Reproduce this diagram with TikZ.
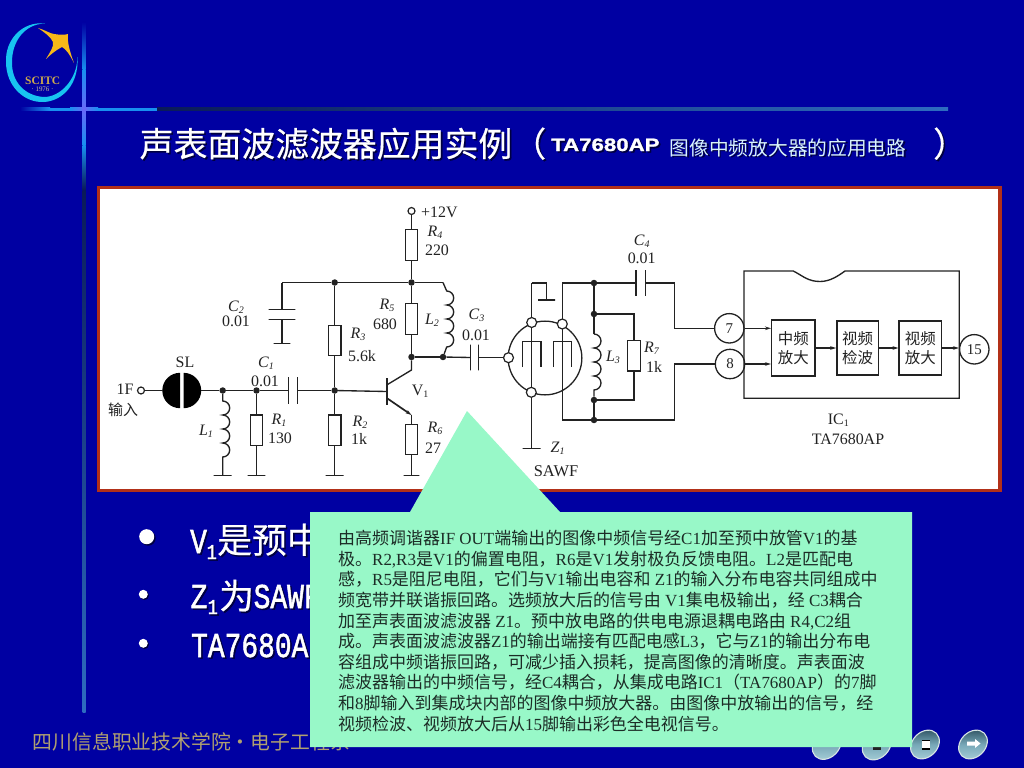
\documentclass[tikz,border=0pt]{standalone}
\usepackage{fontspec}
\usepackage{graphicx}
\usetikzlibrary{arrows.meta}
\setmainfont{Liberation Serif}
\newfontfamily\cjk{Noto Sans CJK SC}
\newfontfamily\cjkh{Noto Sans CJK SC}[FakeBold=0.5]
\newfontfamily\monob{Liberation Mono}[FakeBold=1.7]
\newfontfamily\sansb{Liberation Sans}
\newfontfamily\sansh{Liberation Sans Bold}[FakeBold=1.2]
\definecolor{bgblue}{HTML}{0000A2}
\definecolor{shcol}{HTML}{000040}
\definecolor{wirec}{HTML}{222222}
\definecolor{mint}{HTML}{98F8C8}
\definecolor{panelred}{HTML}{B23018}
\definecolor{logocyan}{HTML}{18C4F0}
\definecolor{logogold}{HTML}{F8B818}
\definecolor{footgold}{HTML}{B0A070}
\definecolor{linedark}{HTML}{0A1A58}
\definecolor{linemid}{HTML}{2E6CC0}
\definecolor{linebright}{HTML}{1890F0}
\definecolor{linecross}{HTML}{6868F8}
\definecolor{bodytext}{HTML}{1C2C26}
\definecolor{btntop}{HTML}{2C5060}
\definecolor{btnmid}{HTML}{78A8B8}
\definecolor{btnlow}{HTML}{A8D0D8}
\definecolor{btnrim}{HTML}{D8E4E4}
\newcommand\Zh[1]{{\cjk #1}}
\newcommand\csub[2]{\textit{#1}\raisebox{-2pt}{\fontsize{10}{10}\selectfont\textit{#2}}}
\newcommand\nsub[2]{#1\raisebox{-2pt}{\fontsize{10}{10}\selectfont #2}}
\newcommand\shnode[5]{\node[#4,text=shcol] at (#2+1.6,#3+1.6) {#5};\node[#4] (#1) at (#2,#3) {#5};}
\tikzset{
  wire/.style={draw=wirec,line width=1.35pt},
  res/.style={draw=wirec,line width=1.35pt,fill=white,shape=rectangle,minimum width=12.5pt,minimum height=30.5pt,inner sep=0pt},
  jdot/.style={fill=wirec,shape=circle,minimum size=6.5pt,inner sep=0pt},
  termc/.style={draw=wirec,line width=1.2pt,fill=white,shape=circle,minimum size=7pt,inner sep=0pt},
  bigterm/.style={draw=wirec,line width=1.2pt,fill=white,shape=circle,minimum size=10pt,inner sep=0pt},
  pinc/.style={draw=wirec,line width=1.3pt,fill=white,shape=circle,minimum size=29.5pt,inner sep=0pt,font=\fontsize{15}{15}\selectfont,text=wirec},
  gndbar/.style={draw=wirec,line width=1.4pt,shape=rectangle,minimum width=#1,minimum height=0pt,inner sep=0pt},
  vplate/.style={draw=wirec,line width=1.4pt,shape=rectangle,minimum height=#1,minimum width=0pt,inner sep=0pt},
  lab/.style={font=\fontsize{16}{16}\selectfont,text=wirec,inner sep=0pt},
  block/.style={draw=wirec,line width=1.35pt,fill=white,shape=rectangle,inner sep=0pt,align=center,font=\cjk\fontsize{15.5}{18.5}\selectfont,text=wirec},
  tip/.style={-{Stealth[length=6pt,width=3.6pt]}},
  ttl/.style={anchor=base west,inner sep=0pt,text=white},
  butn/.style={draw=btnrim,line width=1.1pt,top color=btntop,bottom color=btnlow,middle color=btnmid}
}
\begin{document}
\begin{tikzpicture}[x=1bp,y=-1bp]
\useasboundingbox (0,0) rectangle (1024,768);
\fill[bgblue] (0,0) rectangle (1024,768);
% frame lines
\shade[left color=bgblue,right color=linebright] (20,107.6) rectangle (50,110.6);
\fill[linebright] (50,107.6) rectangle (157,110.6);
\shade[left color=linedark,right color=linemid] (157,107.6) rectangle (948,110.6);
\shade[left color=linebright,right color=linecross] (70,107.6) rectangle (84,110.6);
\shade[left color=linecross,right color=linebright] (84,107.6) rectangle (98,110.6);
\shade[top color=bgblue,bottom color=linebright] (82.5,22) rectangle (85.5,70);
\shade[top color=linebright,bottom color=linecross] (82.5,70) rectangle (85.5,109);
\shade[top color=linecross,bottom color=linebright] (82.5,109) rectangle (85.5,145);
\shade[top color=linebright,bottom color=linedark] (82.5,145) rectangle (85.5,190);
\shade[top color=linedark,bottom color=linemid] (82.5,190) rectangle (85.5,712);
% logo
\fill[logocyan] (45,23.5) .. controls (22,21) and (5,40) .. (6,62) .. controls (6,86) and (24,103) .. (44,102) .. controls (62,101) and (79,85) .. (77.5,57) .. controls (77,80) and (60,97) .. (44,97) .. controls (25,96) and (11.5,82) .. (12,62) .. controls (12,42) and (24,24) .. (45,23.5) -- cycle;
\fill[logogold] (38,28) .. controls (45,30) and (50,33.5) .. (54,34) .. controls (60,35) and (65,35) .. (68,34) .. controls (67,42) and (70,52) .. (74,63) .. controls (70,55) and (66,49) .. (62,47) .. controls (56,50) and (50,55) .. (46,59) .. controls (50,52) and (54,47) .. (53,42) .. controls (51,37) and (44,32) .. (38,28) -- cycle;
\node[inner sep=0pt,text=footgold!60!logogold,font=\bfseries\fontsize{11.5}{11.5}\selectfont] (logoname) at (42.7,80.7) {SCITC};
\node[inner sep=0pt,text=footgold!70!white,font=\fontsize{7}{7}\selectfont] (logoyear) at (42.5,89.5) {· 1976 ·};
% title
\shnode{title1}{139.5}{156.5}{ttl,font=\cjkh\fontsize{34}{34}\selectfont}{声表面波滤波器应用实例（}
\shnode{title2}{551}{151}{ttl,text=white,font=\sansh\fontsize{18}{18}\selectfont}{\scalebox{1.24}[1]{TA7680AP}}
\shnode{title3}{669.5}{155}{ttl,text=white!85!cyan,font=\cjk\fontsize{19.8}{20}\selectfont}{图像中频放大器的应用电路}
\shnode{title4}{933}{156.5}{ttl,font=\cjkh\fontsize{34}{34}\selectfont}{）}
% panel
\draw[panelred,line width=4pt,fill=white] (98.5,187.5) rectangle (999.5,490.5);
% ---------- left part of the circuit
\node[termc] (Tv) at (411.5,211) {};
\node[lab,anchor=west] (Lv) at (421,212) {+12V};
\node[res] (R4) at (411.5,245) {};
\node[jdot] (J2) at (411.5,282.5) {};
\node[jdot] (J1) at (334.7,282.5) {};
\coordinate (C2t) at (282,282.5);
\coordinate (L2t) at (443,282.5);
\node[res] (R3) at (334.7,340.5) {};
\node[res] (R5) at (411.5,319) {};
\node[jdot] (J3) at (411.5,357) {};
\node[jdot] (J4) at (443,357) {};
\node[gndbar=27pt] (C2a) at (282,309.3) {};
\node[gndbar=27pt] (C2b) at (282,319.5) {};
\node[gndbar=17pt] (G2) at (282,343.5) {};
\node[vplate=26pt] (C3a) at (470.5,357.5) {};
\node[vplate=26pt] (C3b) at (478.5,357.5) {};
\node[vplate=27pt] (C1a) at (288.5,390.5) {};
\node[vplate=27pt] (C1b) at (297.5,390.5) {};
\node[jdot] (J5) at (222.7,390.5) {};
\node[jdot] (J6) at (256.5,390.5) {};
\node[jdot] (J7) at (334.7,390.5) {};
\node[termc] (Tin) at (141,390.5) {};
\fill[black] (180,372.8) arc[start angle=-90,end angle=-270,radius=17.7] -- cycle;
\fill[black] (183.5,372.8) arc[start angle=-90,end angle=90,radius=17.7] -- cycle;
\coordinate (SLl) at (163,390.5);
\coordinate (SLr) at (201,390.5);
\node[res] (R1) at (256.5,430.3) {};
\node[res] (R2) at (334.7,430.3) {};
\node[res] (R6) at (411.5,439.5) {};
\node[gndbar=18pt] (G1) at (222.7,475.5) {};
\node[gndbar=18pt] (G3) at (256.5,475.5) {};
\node[gndbar=18pt] (G4) at (334.7,475.5) {};
\node[gndbar=16pt] (G5) at (411.5,475.5) {};
\node[vplate=27pt,line width=1.9pt] (Vb) at (386.7,391.5) {};
\coordinate (Vcb) at (386.7,385);
\coordinate (Veb) at (386.7,398);
\coordinate (Vc) at (411.5,370);
\coordinate (Ve) at (411.5,415);
\draw[wire] (Tv) -- (R4);
\draw[wire] (R4) -- (J2);
\draw[wire] (C2t) -- (J1) -- (J2) -- (L2t);
\draw[wire] (C2t) -- (C2a);
\draw[wire] (C2b) -- (G2);
\draw[wire] (J1) -- (R3);
\draw[wire] (R3) -- (J7);
\draw[wire] (J2) -- (R5);
\draw[wire] (R5) -- (J3);
\draw[wire] (J3) -- (J4);
\draw[wire] (J4) -- (C3a);
\draw[wire] (J3) -- (Vc) -- (Vcb);
\draw[wire,line width=1.7pt,tip] (Veb) -- (Ve);
\draw[wire] (Ve) -- (R6);
\draw[wire] (R6) -- (G5);
\draw[wire] (Tin) -- (SLl);
\draw[wire] (SLr) -- (J5);
\draw[wire] (J5) -- (J6);
\draw[wire] (J6) -- (C1a);
\draw[wire] (C1b) -- (J7);
\draw[wire] (J7) -- (Vb);
\draw[wire] (J6) -- (R1);
\draw[wire] (R1) -- (G3);
\draw[wire] (J7) -- (R2);
\draw[wire] (R2) -- (G4);
% coils
\draw[wire] (J5) -- (222.7,401) arc[start angle=-90,end angle=90,radius=7] arc[start angle=-90,end angle=90,radius=7] arc[start angle=-90,end angle=90,radius=7] arc[start angle=-90,end angle=90,radius=7] -- (G1);
\draw[wire] (L2t) -- (446.7,291) arc[start angle=-90,end angle=90,radius=7] arc[start angle=-90,end angle=90,radius=7] arc[start angle=-90,end angle=90,radius=7] arc[start angle=-90,end angle=90,radius=7] -- (J4);
% circuit labels, left
\node[lab] (Lif) at (125,389) {1F};
\node[lab,font=\cjk\fontsize{15}{15}\selectfont] (Lin) at (123,410) {输入};
\node[lab] (Lsl) at (185,362) {SL};
\node[lab] (Lc1) at (266,363) {\csub{C}{1}};
\node[lab] (Lc1v) at (265,381) {0.01};
\node[lab] (Lc2) at (236,307) {\csub{C}{2}};
\node[lab] (Lc2v) at (236,321) {0.01};
\node[lab] (Lc3) at (476.5,315) {\csub{C}{3}};
\node[lab] (Lc3v) at (476,335) {0.01};
\node[lab] (Lr1) at (279,420) {\csub{R}{1}};
\node[lab] (Lr1v) at (280,438) {130};
\node[lab] (Lr2) at (360,422) {\csub{R}{2}};
\node[lab] (Lr2v) at (359,439) {1k};
\node[lab] (Lr3) at (358,334) {\csub{R}{3}};
\node[lab] (Lr3v) at (362,356) {5.6k};
\node[lab] (Lr4) at (435,232) {\csub{R}{4}};
\node[lab] (Lr4v) at (437,250) {220};
\node[lab] (Lr5) at (387,305) {\csub{R}{5}};
\node[lab] (Lr5v) at (385,324) {680};
\node[lab] (Lr6) at (435,428) {\csub{R}{6}};
\node[lab] (Lr6v) at (433,448) {27};
\node[lab] (Ll1) at (206,431) {\csub{L}{1}};
\node[lab] (Ll2) at (432,320) {\csub{L}{2}};
\node[lab] (Lv1) at (420,391) {\nsub{V}{1}};
% ---------- right part
\node[draw=wirec,line width=1.3pt,shape=circle,minimum size=74pt,inner sep=0pt] (Zc) at (545,358) {};
\coordinate (Zt1) at (531.7,283);
\coordinate (Zt2) at (546.7,283);
\node[gndbar=17pt] (Gz1) at (546.7,300) {};
\node[gndbar=18pt] (Gz2) at (531.7,448.3) {};
\node[jdot] (J8) at (594,283) {};
\node[jdot] (J9) at (594,314) {};
\node[jdot] (J10) at (594,400) {};
\node[jdot] (J11) at (594,420) {};
\coordinate (Zr) at (562.3,283);
\coordinate (Zrb) at (562.3,420);
\node[vplate=26pt] (C4a) at (636,283) {};
\node[vplate=26pt] (C4b) at (645.7,283) {};
\coordinate (C4r) at (674.3,283);
\coordinate (C4d) at (674.3,328.3);
\coordinate (Brb) at (674.3,420);
\coordinate (Brt) at (674.3,364);
\node[res] (R7) at (634,355.7) {};
\coordinate (R7t) at (634,314);
\coordinate (R7b) at (634,400);
\node[pinc] (P7) at (729.3,328.3) {7};
\node[pinc] (P8) at (730,364) {8};
\node[pinc] (P15) at (974.3,349.3) {15};
\node[block,minimum width=43.5pt,minimum height=56pt] (B1) at (793.3,348) {中频\\放大};
\node[block,minimum width=41.5pt,minimum height=54.5pt] (B2) at (857.5,348) {视频\\检波};
\node[block,minimum width=42.5pt,minimum height=54.5pt] (B3) at (920.3,348) {视频\\放大};
\draw[wire] (744,271) -- (793.3,271) .. controls (803,276) and (808,281.5) .. (820,281.5) .. controls (830,281.5) and (838,276) .. (845,271) -- (959.3,271) -- (959.3,398.3) -- (744,398.3) -- cycle;
% comb fingers
\draw[wire] (522.7,367) -- (522.7,341.7) -- (541,341.7) -- (541,367);
\draw[wire] (553.3,367) -- (553.3,341.7) -- (571.7,341.7) -- (571.7,367);
\draw[wire] (Zt1) -- (Zt2) -- (Gz1);
\draw[wire] (Zr) -- (J8) -- (C4a);
\draw[wire] (C4b) -- (C4r) -- (C4d) -- (P7);
\draw[wire] (Zrb) -- (J11) -- (Brb) -- (Brt) -- (P8);
\draw[wire] (Zr) -- (Zrb);
\draw[wire] (Zt1) -- (531.7,392) -- (Gz2);
\draw[wire] (J8) -- (J9) -- (594,334);
\draw[wire] (594,334) arc[start angle=-90,end angle=90,radius=7] arc[start angle=-90,end angle=90,radius=7] arc[start angle=-90,end angle=90,radius=7] arc[start angle=-90,end angle=90,radius=7] -- (J10);
\draw[wire] (J10) -- (J11);
\draw[wire] (J9) -- (R7t) -- (R7);
\draw[wire] (R7) -- (R7b) -- (J10);
\draw[wire] (C3b) -- (508.5,357.5);
\node[bigterm] (Ztl) at (531.7,322.5) {};
\node[bigterm] (Ztr) at (562.3,324) {};
\node[bigterm] (Zl) at (508.5,357.7) {};
\node[bigterm] (Zb) at (531.3,392.3) {};
\draw[wire,tip] (P7) -- (B1.west |- P7);
\draw[wire,tip] (P8) -- (B1.west |- P8);
\draw[wire,tip] (B1) -- (B2);
\draw[wire,tip] (B2) -- (B3);
\draw[wire,tip] (B3) -- (P15.west |- B3);
\node[lab] (Lc4) at (641.7,241.7) {\csub{C}{4}};
\node[lab] (Lc4v) at (641.7,258) {0.01};
\node[lab] (Ll3) at (613,357) {\csub{L}{3}};
\node[lab] (Lr7) at (651.7,348) {\csub{R}{7}};
\node[lab] (Lr7v) at (654,367) {1k};
\node[lab] (Lz1) at (557.7,448.3) {\csub{Z}{1}};
\node[lab,font=\fontsize{16.5}{16.5}\selectfont] (Lsaw) at (556,470.7) {SAWF};
\node[lab] (Lic) at (838.3,420) {\nsub{IC}{1}};
\node[lab] (Lta) at (848,439.3) {TA7680AP};
% bullets
\fill[shcol] (148.2,538.2) circle (7.5);
\fill[white] (146.7,536.7) circle (7.5);
\fill[shcol] (144.5,595.5) circle (4.5);
\fill[white] (143.3,594.3) circle (4.5);
\fill[shcol] (144.5,644.5) circle (4.5);
\fill[white] (143.3,643.3) circle (4.5);
\shnode{b1a}{190}{553}{ttl,font=\monob\fontsize{28}{28}\selectfont}{\scalebox{1}[1.25]{V}}
\shnode{b1s}{206.5}{559}{ttl,font=\monob\fontsize{17}{17}\selectfont}{\scalebox{1}[1.25]{1}}
\shnode{b1b}{217}{553}{ttl,font=\cjkh\fontsize{35}{35}\selectfont}{是预中}
\shnode{b2a}{190.5}{608}{ttl,font=\monob\fontsize{28}{28}\selectfont}{\scalebox{1}[1.25]{Z}}
\shnode{b2s}{207.5}{614}{ttl,font=\monob\fontsize{17}{17}\selectfont}{\scalebox{1}[1.25]{1}}
\shnode{b2b}{219}{609}{ttl,font=\cjkh\fontsize{35}{35}\selectfont}{为}
\shnode{b2c}{253.5}{608}{ttl,font=\monob\fontsize{28}{28}\selectfont}{\scalebox{1}[1.25]{SAWF}}
\shnode{b3a}{191}{657}{ttl,font=\monob\fontsize{28}{28}\selectfont}{\scalebox{1}[1.25]{TA7680A}}
% footer
\node[anchor=base west,inner sep=0pt,text=footgold,font=\cjk\fontsize{19.9}{20}\selectfont] (foot) at (32.5,749) {四川信息职业技术学院・电子工程系};
% navigation buttons
\path[butn] (826.7,745) ellipse[x radius=16,y radius=12.5,rotate=45];
\path[butn] (876.7,745.5) ellipse[x radius=16,y radius=12.5,rotate=45];
\path[butn] (925,744.5) ellipse[x radius=16,y radius=12.5,rotate=45];
\path[butn] (973,744.5) ellipse[x radius=16,y radius=12.5,rotate=45];
\fill[wirec] (873,747) rectangle (881,749.5);
\fill[black] (921.8,739.5) rectangle (930,749.5);
\fill[white] (921.8,741) rectangle (930,747.5);
\fill[white] (967,741.5) -- (975,741.5) -- (975,739) -- (980.5,743.5) -- (975,748) -- (975,745.5) -- (967,745.5) -- cycle;
% callout
\fill[mint] (310,512) -- (410,512) -- (467,411) -- (560,512) -- (912,512) -- (912,747) -- (310,747) -- cycle;
\node[anchor=north west,inner sep=0pt,align=left,text=bodytext,font=\fontsize{17.05}{20.65}\selectfont] (calltext) at (338,530.3) {%
\Zh{由高频调谐器}IF OUT\Zh{端输出的图像中频信号经}C1\Zh{加至预中放管}V1\Zh{的基}\\
\Zh{极。}R2,R3\Zh{是}V1\Zh{的偏置电阻，}R6\Zh{是}V1\Zh{发射极负反馈电阻。}L2\Zh{是匹配电}\\
\Zh{感，}R5\Zh{是阻尼电阻，它们与}V1\Zh{输出电容和} Z1\Zh{的输入分布电容共同组成中}\\
\Zh{频宽带并联谐振回路。选频放大后的信号由} V1\Zh{集电极输出，经} C3\Zh{耦合}\\
\Zh{加至声表面波滤波器} Z1\Zh{。预中放电路的供电电源退耦电路由} R4,C2\Zh{组}\\
\Zh{成。声表面波滤波器}Z1\Zh{的输出端接有匹配电感}L3\Zh{，它与}Z1\Zh{的输出分布电}\\
\Zh{容组成中频谐振回路，可减少插入损耗，提高图像的清晰度。声表面波}\\
\Zh{滤波器输出的中频信号，经}C4\Zh{耦合，从集成电路}IC1\Zh{（}TA7680AP\Zh{）的}7\Zh{脚}\\
\Zh{和}8\Zh{脚输入到集成块内部的图像中频放大器。由图像中放输出的信号，经}\\
\Zh{视频检波、视频放大后从}15\Zh{脚输出彩色全电视信号。}};
\end{tikzpicture}
\end{document}
